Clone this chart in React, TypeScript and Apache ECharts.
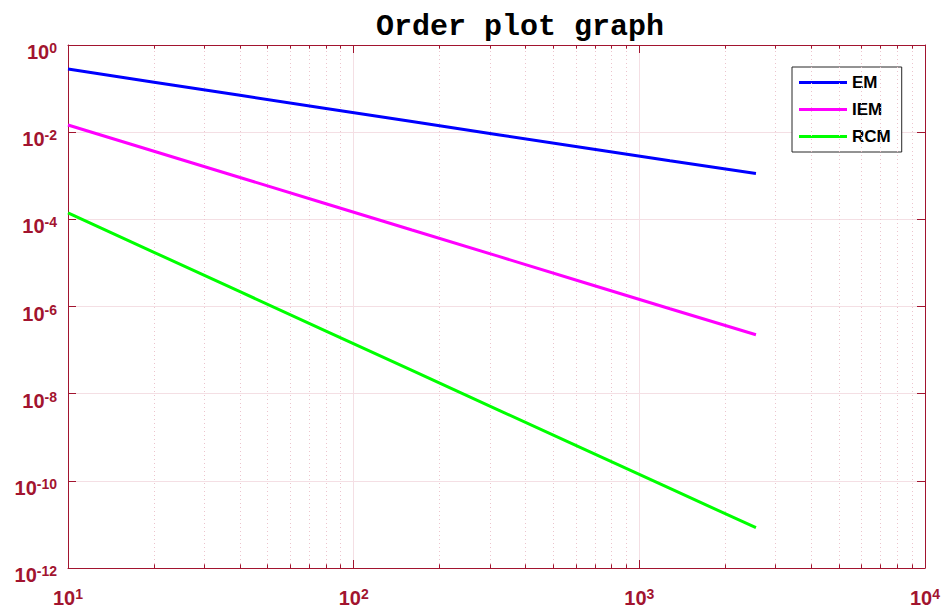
import React, { useEffect, useRef } from "react";
import * as echarts from "echarts";

const steps = [10, 20, 40, 80, 160, 320, 640, 1280, 2560];
const emErr = [0.28, 0.14, 0.07, 0.035, 0.0175, 0.00875, 0.0044, 0.0022, 0.00112];
const iemErr = [1.46e-2, 3.65e-3, 9.1e-4, 2.28e-4, 5.7e-5, 1.43e-5, 3.56e-6, 8.9e-7, 2.25e-7];
const rcmErr = [1.4e-4, 1.75e-5, 2.19e-6, 2.73e-7, 3.42e-8, 4.27e-9, 5.34e-10, 6.68e-11, 8.4e-12];
const seriesNames = ["EM", "IEM", "RCM"];
const seriesColors = ["#0000ff", "#ff00ff", "#00ff00"];
const decades = [10, 100, 1000];
const minorMultipliers = [2, 3, 4, 5, 6, 7, 8, 9];
const titleText = "Order plot graph";

const AX = "#A2142F";
const GRID = "#f4dfe4";
const MINOR = "#ecc4cd";

export default function App() {
  const ref = useRef<HTMLDivElement>(null);
  useEffect(() => {
    if (!ref.current) return;
    const chart = echarts.init(ref.current, null, { renderer: "svg" });
    const expOf = (v: number) => Math.round(Math.log10(v));
    const minorVals: number[] = [];
    decades.forEach((d) => minorMultipliers.forEach((m) => minorVals.push(d * m)));
    const yMin = 1e-12;
    const yMax = 1;
    const tickFrac = Math.pow(10, 0.085);
    const markData: any[] = [];
    minorVals.forEach((v) => {
      markData.push({ xAxis: v, lineStyle: { color: MINOR, type: [1, 3], width: 1 } });
    });
    minorVals.forEach((v) => {
      markData.push([
        { coord: [v, yMin], lineStyle: { color: AX, type: "solid", width: 1 } },
        { coord: [v, yMin * tickFrac] },
      ]);
      markData.push([
        { coord: [v, yMax], lineStyle: { color: AX, type: "solid", width: 1 } },
        { coord: [v, yMax / tickFrac] },
      ]);
    });
    const labelRich = {
      b: { fontSize: 20, fontWeight: "bold", color: AX, lineHeight: 22, fontFamily: "Liberation Sans" },
      s: { fontSize: 14, fontWeight: "bold", color: AX, lineHeight: 10, verticalAlign: "top", fontFamily: "Liberation Sans" },
    };
    const xAxisBase = {
      type: "log",
      logBase: 10,
      min: 10,
      max: 10000,
      interval: 1,
      axisLine: { show: true, lineStyle: { color: AX, width: 1 } },
      axisTick: { show: true, inside: true, length: 8, lineStyle: { color: AX } },
      minorTick: { show: false },
    };
    const yAxisBase = {
      type: "log",
      logBase: 10,
      min: yMin,
      max: yMax,
      interval: 2,
      axisLine: { show: true, lineStyle: { color: AX, width: 1 } },
      axisTick: { show: true, inside: true, length: 8, lineStyle: { color: AX } },
      minorTick: { show: false },
    };
    const mkSeries = (i: number, vals: number[]) => ({
      name: seriesNames[i],
      type: "line",
      data: steps.map((s, k) => [s, vals[k]]),
      showSymbol: false,
      symbol: "none",
      lineStyle: { color: seriesColors[i], width: 3 },
      itemStyle: { color: seriesColors[i] },
      z: 5,
    });
    chart.setOption({
      animation: false,
      backgroundColor: "#ffffff",
      title: {
        text: titleText,
        left: 371,
        top: 7,
        textStyle: { fontFamily: "Liberation Mono", fontWeight: "bold", fontSize: 30, color: "#000" },
      },
      grid: { left: 68, right: 19, top: 45, bottom: 40, containLabel: false },
      legend: {
        data: seriesNames,
        orient: "vertical",
        left: 792,
        top: 67,
        icon: "path://M0,0L48,0L48,3L0,3Z",
        itemWidth: 48,
        itemHeight: 14,
        itemGap: 10,
        padding: [7, 11, 7, 7],
        backgroundColor: "#ffffff",
        borderColor: "#262626",
        borderWidth: 1,
        borderRadius: 0,
        textStyle: { fontFamily: "Liberation Sans", fontWeight: "bold", fontSize: 17, color: "#000" },
      },
      xAxis: [
        {
          ...xAxisBase,
          position: "bottom",
          axisLabel: {
            margin: 7,
            padding: [12, 0, 0, 0],
            formatter: (v: number) => `{b|10}{s|${expOf(v)}}`,
            rich: labelRich,
          },
          splitLine: { show: true, lineStyle: { color: GRID, width: 1 } },
        },
        {
          ...xAxisBase,
          position: "top",
          axisLabel: { show: false },
          splitLine: { show: false },
        },
      ],
      yAxis: [
        {
          ...yAxisBase,
          position: "left",
          axisLabel: {
            margin: 11,
            padding: [14, 0, 0, 0],
            formatter: (v: number) => `{b|10}{s|${expOf(v)}}`,
            rich: labelRich,
          },
          splitLine: { show: true, lineStyle: { color: GRID, width: 1 } },
        },
        {
          ...yAxisBase,
          position: "right",
          axisLabel: { show: false },
          splitLine: { show: false },
        },
      ],
      series: [
        {
          name: "grid-minor",
          type: "line",
          data: [],
          silent: true,
          z: 1,
          markLine: {
            silent: true,
            symbol: ["none", "none"],
            label: { show: false },
            animation: false,
            data: markData,
          },
        },
        mkSeries(0, emErr),
        mkSeries(1, iemErr),
        mkSeries(2, rcmErr),
      ],
    });
    return () => chart.dispose();
  }, []);
  return <div ref={ref} style={{ position: "fixed", left: 0, top: 0, width: 944, height: 608 }} />;
}
